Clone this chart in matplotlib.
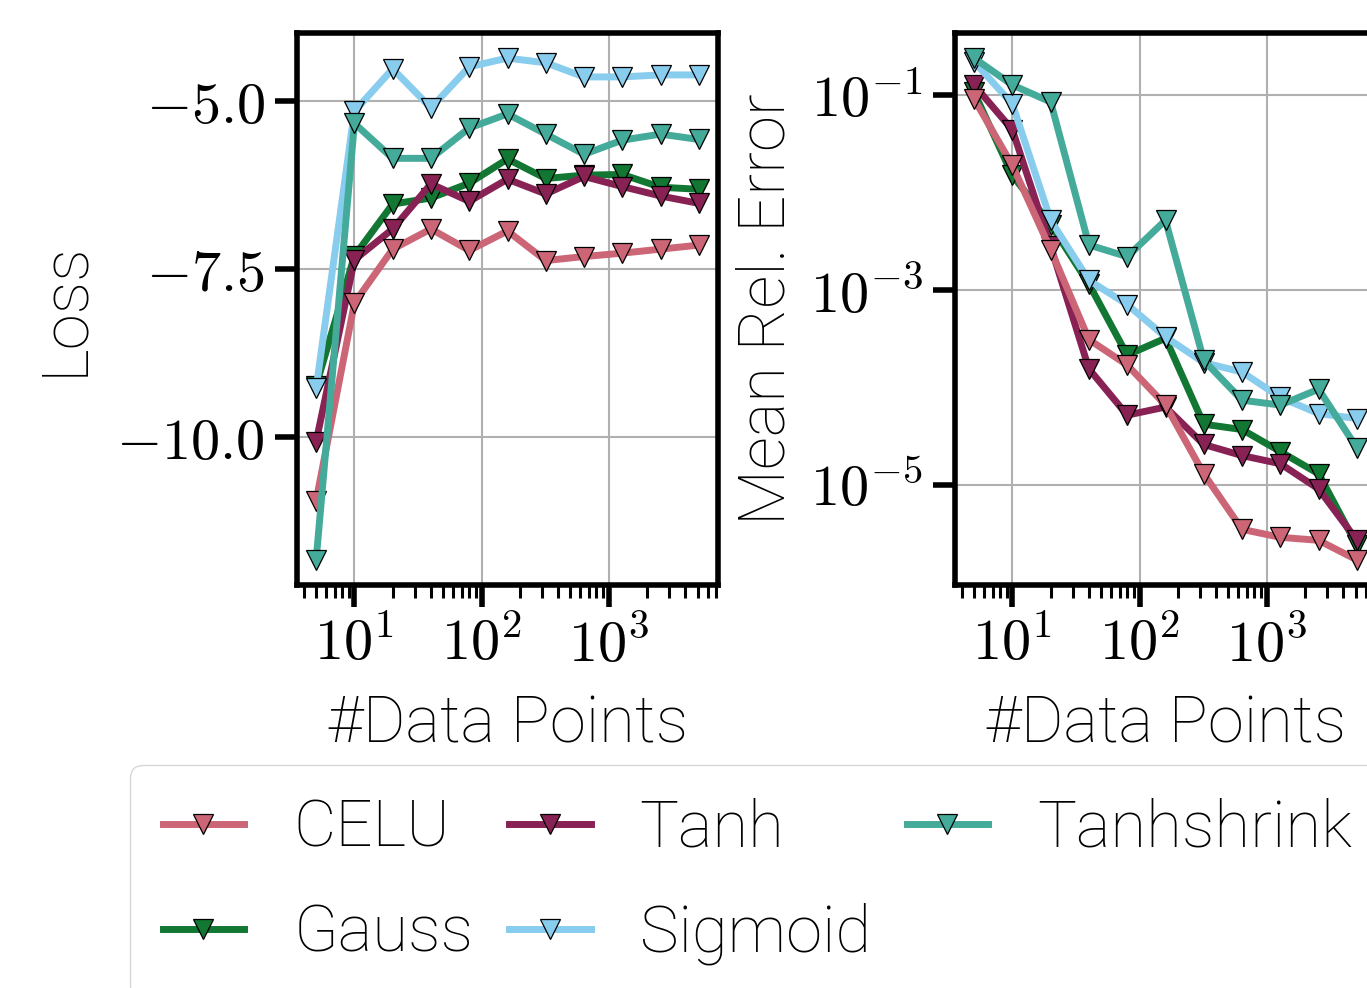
import numpy as np
import matplotlib
matplotlib.use("Agg")
import matplotlib.pyplot as plt
from matplotlib.ticker import FixedLocator, FuncFormatter, MultipleLocator, NullLocator

# data
n_points = [5, 10, 20, 40, 80, 160, 320, 640, 1280, 2560, 5120]

loss_celu = [-10.94, -8.0, -7.20, -6.90, -7.22, -6.93, -7.37, -7.31, -7.26, -7.20, -7.14]
loss_gauss = [-9.23, -7.30, -6.53, -6.44, -6.22, -5.86, -6.15, -6.10, -6.09, -6.28, -6.31]
loss_tanh = [-10.06, -7.36, -6.90, -6.23, -6.49, -6.16, -6.38, -6.12, -6.27, -6.41, -6.52]
loss_sigmoid = [-9.27, -5.15, -4.52, -5.10, -4.49, -4.36, -4.43, -4.64, -4.64, -4.61, -4.61]
loss_tanhshrink = [-11.82, -5.33, -5.85, -5.85, -5.40, -5.19, -5.49, -5.79, -5.58, -5.49, -5.57]

err_celu = [0.091, 0.019, 2.6e-3, 3.1e-4, 1.7e-4, 6.6e-5, 1.3e-5, 3.5e-6, 2.9e-6, 2.7e-6, 1.7e-6]
err_gauss = [0.107, 0.015, 4.7e-3, 1.15e-3, 2.15e-4, 3.2e-4, 4.2e-5, 3.7e-5, 2.2e-5, 1.3e-5, 2.4e-6]
err_tanh = [0.127, 0.044, 2.8e-3, 1.55e-4, 5.2e-5, 6.3e-5, 2.6e-5, 2.0e-5, 1.65e-5, 9.1e-6, 2.7e-6]
err_sigmoid = [0.22, 0.081, 5.2e-3, 1.26e-3, 7.1e-4, 3.3e-4, 1.8e-4, 1.44e-4, 7.9e-5, 5.4e-5, 4.8e-5]
err_tanhshrink = [0.24, 0.127, 0.085, 2.9e-3, 2.2e-3, 5.2e-3, 1.9e-4, 7.4e-5, 6.6e-5, 9.6e-5, 2.4e-5]

names = ["CELU", "Gauss", "Tanh", "Sigmoid", "Tanhshrink"]  # legend order
colors = {"CELU": "#CC6677", "Gauss": "#117733", "Tanh": "#882255",
          "Sigmoid": "#88CCEE", "Tanhshrink": "#44AA99"}
draw_order = ["Gauss", "Tanh", "CELU", "Sigmoid", "Tanhshrink"]

loss = {"CELU": loss_celu, "Gauss": loss_gauss, "Tanh": loss_tanh,
        "Sigmoid": loss_sigmoid, "Tanhshrink": loss_tanhshrink}
err = {"CELU": err_celu, "Gauss": err_gauss, "Tanh": err_tanh,
       "Sigmoid": err_sigmoid, "Tanhshrink": err_tanhshrink}

plt.rcParams["font.family"] = ["Roboto"]
plt.rcParams["font.weight"] = "light"
plt.rcParams["axes.labelweight"] = "light"
plt.rcParams["mathtext.fontset"] = "cm"


def pow10(v, _):
    return f"$10^{{{int(round(np.log10(v)))}}}$"


W, H = 1367, 988
fig = plt.figure(figsize=(W / 100, H / 100), dpi=100)
ax1 = fig.add_axes([297 / W, 1 - 585 / H, 421 / W, 552 / H])
ax2 = fig.add_axes([955 / W, 1 - 585 / H, 421 / W, 552 / H])

handles = {}
for ax, data in [(ax1, loss), (ax2, err)]:
    for name in draw_order:
        line, = ax.plot(n_points, data[name], color=colors[name], lw=5,
                        marker="v", ms=14, mec="k", mew=0.9, label=name)
        handles[name] = line
    ax.set_xscale("log")
    ax.xaxis.set_major_formatter(FuncFormatter(pow10))
    ax.grid(True, which="major", color="#b0b0b0", lw=1.5)
    ax.set_axisbelow(True)
    for s in ax.spines.values():
        s.set_linewidth(4)
    ax.tick_params(which="major", length=16, width=4, pad=7, labelsize=42)
    ax.tick_params(which="minor", length=9, width=2.2)
    ax.set_xlabel("#Data Points", fontsize=47)
    ax.xaxis.set_label_coords(0.5, -0.197)

ax1.yaxis.set_major_locator(MultipleLocator(2.5))
ax1.yaxis.set_major_formatter(FuncFormatter(lambda v, _: f"${v:.1f}$"))
ax1.set_ylabel("Loss", fontsize=47)
ax1.yaxis.set_label_coords(-0.48, 0.5)

ax2.set_yscale("log")
ax2.yaxis.set_major_locator(FixedLocator([1e-1, 1e-3, 1e-5]))
ax2.yaxis.set_major_formatter(FuncFormatter(pow10))
ax2.yaxis.set_minor_locator(NullLocator())
ax2.set_ylabel("Mean Rel. Error", fontsize=47)
ax2.yaxis.set_label_coords(-0.373, 0.5)

fig.legend([handles[n] for n in names], names, loc="upper left",
           bbox_to_anchor=(130 / W, 1 - 765 / H), ncol=3, fontsize=47,
           handlelength=1.25, handletextpad=0.75, columnspacing=0.55,
           labelspacing=0.66, borderpad=0.5, borderaxespad=0)

fig.savefig("out.png", dpi=100)
